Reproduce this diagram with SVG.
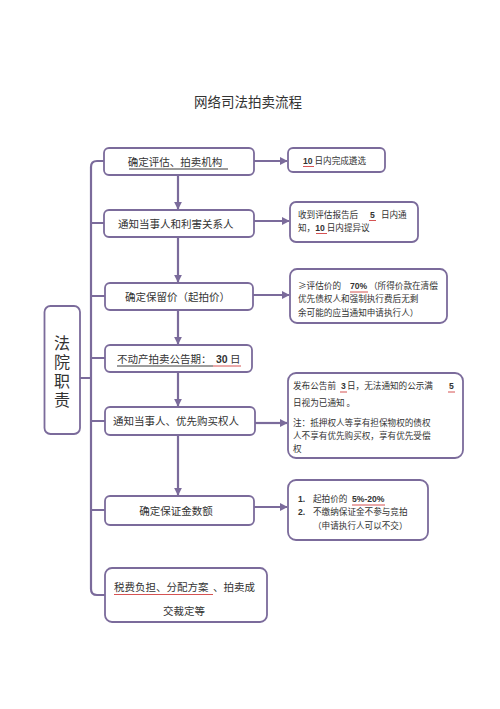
<svg xmlns="http://www.w3.org/2000/svg" width="500" height="709" viewBox="0 0 500 709">
<style>
.box{fill:#fff;stroke:#7b6b9b;stroke-width:1.8}
.ln{fill:none;stroke:#7b6b9b;stroke-width:2.2}
.t{font-family:"Noto Sans CJK SC","Liberation Sans",sans-serif;fill:#333}
.m{font-size:10.5px}
.s{font-size:8.6px}
.n{font-family:"Liberation Sans",Arial,sans-serif;font-weight:bold}
.ur{stroke:#d04040;stroke-width:0.9}
.uk{stroke:#222;stroke-width:0.9}
</style>
<defs>
<marker id="ah" viewBox="0 0 10 10" refX="9" refY="5" markerWidth="3.6" markerHeight="3.6" orient="auto">
<path d="M0,0 L10,5 L0,10 z" fill="#7b6b9b"/>
</marker>
</defs>
<rect width="500" height="709" fill="#fff"/>
<text class="t" x="248" y="107" font-size="13.5" text-anchor="middle">网络司法拍卖流程</text>

<g id="connectors">
<path class="ln" d="M104,161 H97 Q91,161 91,167 V589 Q91,595 97,595 H105"/>
<path class="ln" d="M91,223 H104 M91,296 H105 M91,358 H105 M91,421 H105 M91,510 H105 M80,378 H91"/>
<path class="ln" marker-end="url(#ah)" d="M178,175 V209"/>
<path class="ln" marker-end="url(#ah)" d="M178,237 V282"/>
<path class="ln" marker-end="url(#ah)" d="M178,310 V344"/>
<path class="ln" marker-end="url(#ah)" d="M178,372 V406"/>
<path class="ln" marker-end="url(#ah)" d="M178,435 V495"/>
<path class="ln" marker-end="url(#ah)" d="M254,161 H287"/>
<path class="ln" marker-end="url(#ah)" d="M254,221 H289"/>
<path class="ln" marker-end="url(#ah)" d="M253,295 H289"/>
<path class="ln" marker-end="url(#ah)" d="M255,423 H287"/>
<path class="ln" marker-end="url(#ah)" d="M254,507 H287"/>
</g>

<g id="court">
<rect class="box" x="44.5" y="306" width="35.5" height="128" rx="6"/>
<text class="t" x="62" y="335" font-size="16" writing-mode="vertical-rl" letter-spacing="3">法院职责</text>
</g>

<g id="n1">
<rect class="box" x="104" y="148" width="150" height="27" rx="5"/>
<text class="t m" x="175" y="165.5" text-anchor="middle">确定评估、拍卖机构</text>
<line class="uk" x1="129" y1="169" x2="228" y2="169"/>
</g>
<g id="n2">
<rect class="box" x="104" y="210" width="150" height="27" rx="5"/>
<text class="t m" x="118" y="227.5">通知当事人和利害关系人</text>
</g>
<g id="n3">
<rect class="box" x="105" y="283" width="148" height="27" rx="5"/>
<text class="t m" x="125" y="300.5">确定保留价（起拍价）</text>
</g>
<g id="n4">
<rect class="box" x="105" y="345" width="147" height="27" rx="5"/>
<text class="t m" x="117" y="362.5">不动产拍卖公告期：<tspan class="n" x="216">30</tspan> 日</text>
<line class="uk" x1="117" y1="366" x2="213" y2="366" stroke="#888"/>
<line class="ur" x1="213" y1="366" x2="241" y2="366"/>
</g>
<g id="n5">
<rect class="box" x="105" y="407" width="150" height="28" rx="5"/>
<text class="t m" x="113" y="425">通知当事人、优先购买权人</text>
</g>
<g id="n6">
<rect class="box" x="105" y="496" width="149" height="29" rx="5"/>
<text class="t m" x="176" y="514.5" text-anchor="middle">确定保证金数额</text>
</g>
<g id="n7">
<rect class="box" x="105" y="568" width="162" height="54" rx="7"/>
<text class="t m" x="114" y="591">税费负担、分配方案 <tspan x="213">、拍卖成</tspan></text>
<text class="t m" x="184" y="615" text-anchor="middle">交裁定等</text>
<line class="ur" x1="114" y1="594.5" x2="213" y2="594.5"/>
</g>

<g id="r1">
<rect class="box" x="288" y="148" width="97" height="24" rx="5"/>
<text class="t s" x="303" y="163.5"><tspan class="n">10</tspan> 日内完成遴选</text>
<line class="ur" x1="303" y1="166.5" x2="314" y2="166.5"/>
</g>
<g id="r2">
<rect class="box" x="290" y="202" width="128" height="40" rx="6"/>
<text class="t s" x="298" y="217.5">收到评估报告后<tspan class="n" x="370">5</tspan><tspan x="379"> 日内通</tspan></text>
<text class="t s" x="298" y="230.5">知，<tspan class="n">10</tspan> 日内提异议</text>
<line class="ur" x1="369" y1="220.5" x2="376" y2="220.5"/>
<line class="ur" x1="316" y1="233.5" x2="327" y2="233.5"/>
</g>
<g id="r3">
<rect class="box" x="290" y="269" width="157" height="54" rx="7"/>
<text class="t s" x="298" y="289">≥评估价的 <tspan class="n" x="350">70%</tspan><tspan x="369">（所得价款在清偿</tspan></text>
<text class="t s" x="298" y="302">优先债权人和强制执行费后无剩</text>
<text class="t s" x="298" y="315.5">余可能的应当通知申请执行人）</text>
<line class="ur" x1="350" y1="292" x2="368" y2="292"/>
</g>
<g id="r4">
<rect class="box" x="288" y="373" width="175" height="85" rx="8"/>
<text class="t s" x="293" y="389">发布公告前 <tspan class="n" x="341">3</tspan><tspan x="347">日，无法通知的公示满</tspan><tspan class="n" x="449">5</tspan></text>
<text class="t s" x="293" y="406">日视为已通知  。</text>
<text class="t s" x="293" y="425.5">注：抵押权人等享有担保物权的债权</text>
<text class="t s" x="293" y="439">人不享有优先购买权，享有优先受偿</text>
<text class="t s" x="293" y="452">权</text>
<line class="ur" x1="340" y1="392" x2="347" y2="392" stroke="#9a6a9a"/>
<line class="ur" x1="448" y1="392" x2="455" y2="392" stroke="#9a6a9a"/>
</g>
<g id="r5">
<rect class="box" x="288" y="480" width="140" height="60" rx="8"/>
<text class="t s" x="298" y="502"><tspan class="n">1.</tspan><tspan x="313">起拍价的</tspan><tspan class="n" x="352">5%-20%</tspan></text>
<text class="t s" x="298" y="515"><tspan class="n">2.</tspan><tspan x="313">不缴纳保证金不参与竞拍</tspan></text>
<text class="t s" x="313" y="528.5">（申请执行人可以不交）</text>
<line class="ur" x1="352" y1="505" x2="385" y2="505"/>
</g>
</svg>
